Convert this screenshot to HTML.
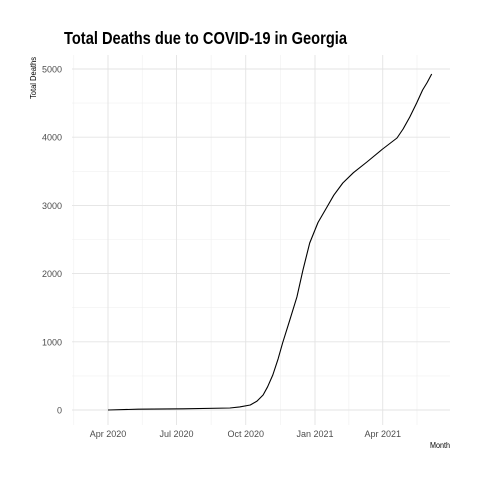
<!DOCTYPE html>
<html><head><meta charset="utf-8"><style>
body{margin:0;background:#fff;}
svg text{font-family:"Liberation Sans",sans-serif;}
</style></head><body>
<svg id="chart" width="480" height="480" xmlns="http://www.w3.org/2000/svg">
<text x="64" y="44" font-size="17.5" font-weight="bold" fill="#000" textLength="283" lengthAdjust="spacingAndGlyphs">Total Deaths due to COVID-19 in Georgia</text>
<text transform="translate(36,78) rotate(-90)" text-anchor="middle" font-size="8" fill="#000" textLength="42" lengthAdjust="spacingAndGlyphs">Total Deaths</text>
<text x="450" y="448" text-anchor="end" font-size="8" fill="#000" textLength="20" lengthAdjust="spacingAndGlyphs">Month</text>
<g id="grid"></g><g id="ticks"></g><g id="series"></g>
</svg>
<script>
const days = [0, 40, 100, 162, 175, 189, 198, 206, 212, 219, 226, 232, 241, 251, 259, 268, 279, 291, 300, 312, 326, 344, 364, 384, 392, 401, 410, 418, 424, 430];
const deaths = [0, 12, 18, 29, 45, 73, 130, 220, 340, 513, 750, 982, 1300, 1657, 2050, 2449, 2750, 2977, 3150, 3328, 3480, 3636, 3820, 3988, 4120, 4296, 4500, 4692, 4800, 4927];
const yTicks = [0, 1000, 2000, 3000, 4000, 5000];
const xTickDays = [0, 91, 183, 275, 365];
const xTickLabels = ["Apr 2020", "Jul 2020", "Oct 2020", "Jan 2021", "Apr 2021"];
const NS = "http://www.w3.org/2000/svg";
const x = d => 108 + d * 0.7527;
const y = v => 410 - v * 0.0682;
const L = 72, R = 450, T = 55, B = 425;
const grid = document.getElementById('grid'), ticks = document.getElementById('ticks'), series = document.getElementById('series');
function line(p, x1, y1, x2, y2, c, w) {
  const l = document.createElementNS(NS, 'line');
  l.setAttribute('x1', x1); l.setAttribute('y1', y1); l.setAttribute('x2', x2); l.setAttribute('y2', y2);
  l.setAttribute('stroke', c); l.setAttribute('stroke-width', w);
  p.appendChild(l); return l;
}
for (let i = 0; i < yTicks.length; i++) {
  const v = yTicks[i] + 500;
  if (y(v) > T) {
    const l = line(grid, L, y(v), R, y(v), '#f0f0f0', 0.6);
    
    
  }
}
const minorX = [xTickDays[0] - 45.5];
for (let i = 0; i < xTickDays.length - 1; i++) minorX.push((xTickDays[i] + xTickDays[i + 1]) / 2);
minorX.push(xTickDays[4] + 45.5);
minorX.forEach(d => {
  if (x(d) > L && x(d) < R) {
    const l = line(grid, x(d), T, x(d), B, '#f0f0f0', 0.6);
    
    
  }
});
yTicks.forEach(v => {
  const l = line(grid, L, y(v), R, y(v), '#e3e3e3', 0.9);
  
  
  const t = document.createElementNS(NS, 'text');
  t.setAttribute('x', 62); t.setAttribute('y', y(v) + 3.5);
  t.setAttribute('text-anchor', 'end'); t.setAttribute('font-size', '9'); t.setAttribute('fill', '#4d4d4d');
  t.textContent = v;
  
  
  ticks.appendChild(t);
});
xTickDays.forEach((d, i) => {
  const l = line(grid, x(d), T, x(d), B, '#e3e3e3', 0.9);
  
  
  const t = document.createElementNS(NS, 'text');
  t.setAttribute('x', x(d)); t.setAttribute('y', 437);
  t.setAttribute('text-anchor', 'middle'); t.setAttribute('font-size', '9'); t.setAttribute('fill', '#4d4d4d');
  t.textContent = xTickLabels[i];
  
  
  ticks.appendChild(t);
});
const path = document.createElementNS(NS, 'path');
path.setAttribute('d', days.map((d, i) => (i ? 'L' : 'M') + x(d).toFixed(1) + ',' + y(deaths[i]).toFixed(1)).join(''));
path.setAttribute('fill', 'none'); path.setAttribute('stroke', '#000'); path.setAttribute('stroke-width', '1.1');
path.setAttribute('stroke-linejoin', 'round');


series.appendChild(path);
</script>
</body></html>
